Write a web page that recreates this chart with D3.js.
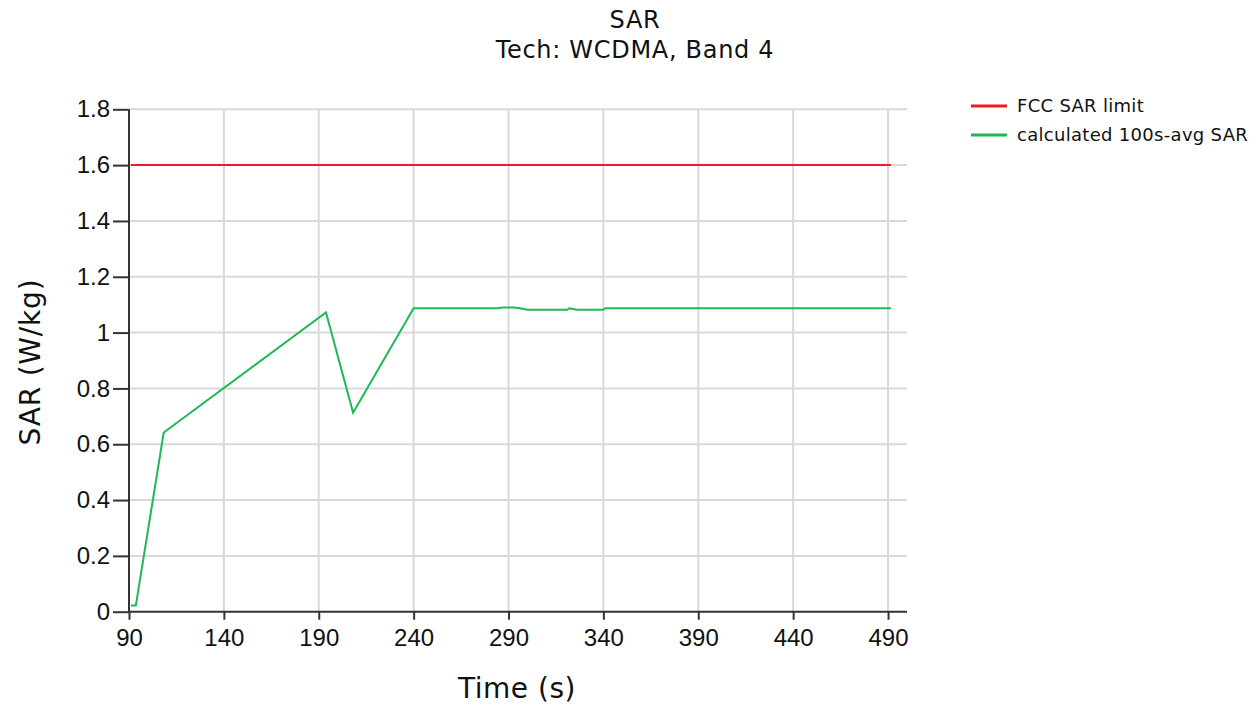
<!DOCTYPE html>
<html><head><meta charset="utf-8">
<script src="https://cdn.jsdelivr.net/npm/d3@7"></script>
<style>body{margin:0;background:#fff}svg{display:block}</style>
</head><body>
<svg id="c" width="1260" height="709"></svg>
<script>
const titleLines = ["SAR", "Tech: WCDMA, Band 4"];
const xLabel = "Time (s)";
const yLabel = "SAR (W/kg)";
const xTicks = [90, 140, 190, 240, 290, 340, 390, 440, 490];
const yTicks = [0, 0.2, 0.4, 0.6, 0.8, 1, 1.2, 1.4, 1.6, 1.8];
const seriesNames = ["FCC SAR limit", "calculated 100s-avg SAR"];
const limitTime = [91, 491.5];
const limitValue = [1.6, 1.6];
const sarTime = [91, 93.6, 108.3, 193.8, 208.1, 240, 284, 287, 293, 296, 300, 321, 322, 326, 340, 341, 491.5];
const sarValue = [0.022, 0.022, 0.642, 1.072, 0.713, 1.087, 1.087, 1.09, 1.09, 1.087, 1.082, 1.082, 1.087, 1.082, 1.082, 1.087, 1.087];
const colors = ["#ec1c24", "#1db954"];

const svg = d3.select("#c");
const m = {l: 129, r: 907, t: 109.3, b: 611.7};
const x = d3.scaleLinear().domain([90, 500]).range([m.l, m.r]);
const y = d3.scaleLinear().domain([0, 1.8]).range([m.b, m.t]);

// grid
svg.append("g").selectAll("line").data(xTicks.slice(1)).join("line")
  .attr("x1", d => x(d)).attr("x2", d => x(d)).attr("y1", m.t).attr("y2", m.b)
  .attr("stroke", "#d9d9d9").attr("stroke-width", 2);
svg.append("g").selectAll("line").data(yTicks.slice(1)).join("line")
  .attr("x1", m.l).attr("x2", m.r).attr("y1", d => y(d)).attr("y2", d => y(d))
  .attr("stroke", "#d9d9d9").attr("stroke-width", 2);

// axes
const ya = svg.append("g").attr("transform", `translate(${m.l},0)`)
  .call(d3.axisLeft(y).tickValues(yTicks).tickFormat(d => d3.format("")(+d.toFixed(1))).tickSize(16).tickPadding(3));
const xa = svg.append("g").attr("transform", `translate(0,${m.b})`)
  .call(d3.axisBottom(x).tickValues(xTicks).tickSize(8).tickPadding(9));
[ya, xa].forEach(a => {
  a.select(".domain").attr("stroke", "#333").attr("stroke-width", 2);
  a.selectAll(".tick line").attr("stroke", "#333").attr("stroke-width", 2);
  a.selectAll("text").attr("font-family", "Liberation Sans, Arial, sans-serif").attr("font-size", 24).attr("fill", "#111");
});
ya.select(".domain").attr("d", `M-0,${m.t}V${m.b}`);
xa.select(".domain").attr("d", `M${m.l},0H${m.r}`);

// lines
const line = d3.line().x(d => x(d[0])).y(d => y(d[1]));
svg.append("path").datum(limitTime.map((t, i) => [t, limitValue[i]]))
  .attr("d", line).attr("fill", "none").attr("stroke", colors[0]).attr("stroke-width", 2);
svg.append("path").datum(sarTime.map((t, i) => [t, sarValue[i]]))
  .attr("d", line).attr("fill", "none").attr("stroke", colors[1]).attr("stroke-width", 2);

// title
svg.append("text").attr("x", 635).attr("y", 28).attr("text-anchor", "middle")
  .attr("font-family", "DejaVu Sans, Verdana, sans-serif").attr("font-size", 24).attr("letter-spacing", 0.7).attr("fill", "#111")
  .selectAll("tspan").data(titleLines).join("tspan").attr("x", 635).attr("dy", (d, i) => i ? 30 : 0).text(d => d);

// axis titles
svg.append("text").attr("x", 517).attr("y", 698).attr("text-anchor", "middle")
  .attr("font-family", "DejaVu Sans, Verdana, sans-serif").attr("font-size", 28).attr("letter-spacing", 0.5).attr("fill", "#111").text(xLabel);
svg.append("text").attr("transform", "translate(40,362) rotate(-90)").attr("text-anchor", "middle")
  .attr("font-family", "DejaVu Sans, Verdana, sans-serif").attr("font-size", 28).attr("letter-spacing", 0.8).attr("fill", "#111").text(yLabel);

// legend
const lg = svg.append("g").selectAll("g").data(seriesNames).join("g")
  .attr("transform", (d, i) => `translate(971,${106 + i * 29})`);
lg.append("line").attr("x1", 0).attr("x2", 36).attr("stroke", (d, i) => colors[i]).attr("stroke-width", 3);
lg.append("text").attr("x", 46).attr("y", 6).attr("font-family", "DejaVu Sans, Verdana, sans-serif")
  .attr("font-size", 18).attr("letter-spacing", 0.3).attr("fill", "#111").text(d => d);
</script>
</body></html>
